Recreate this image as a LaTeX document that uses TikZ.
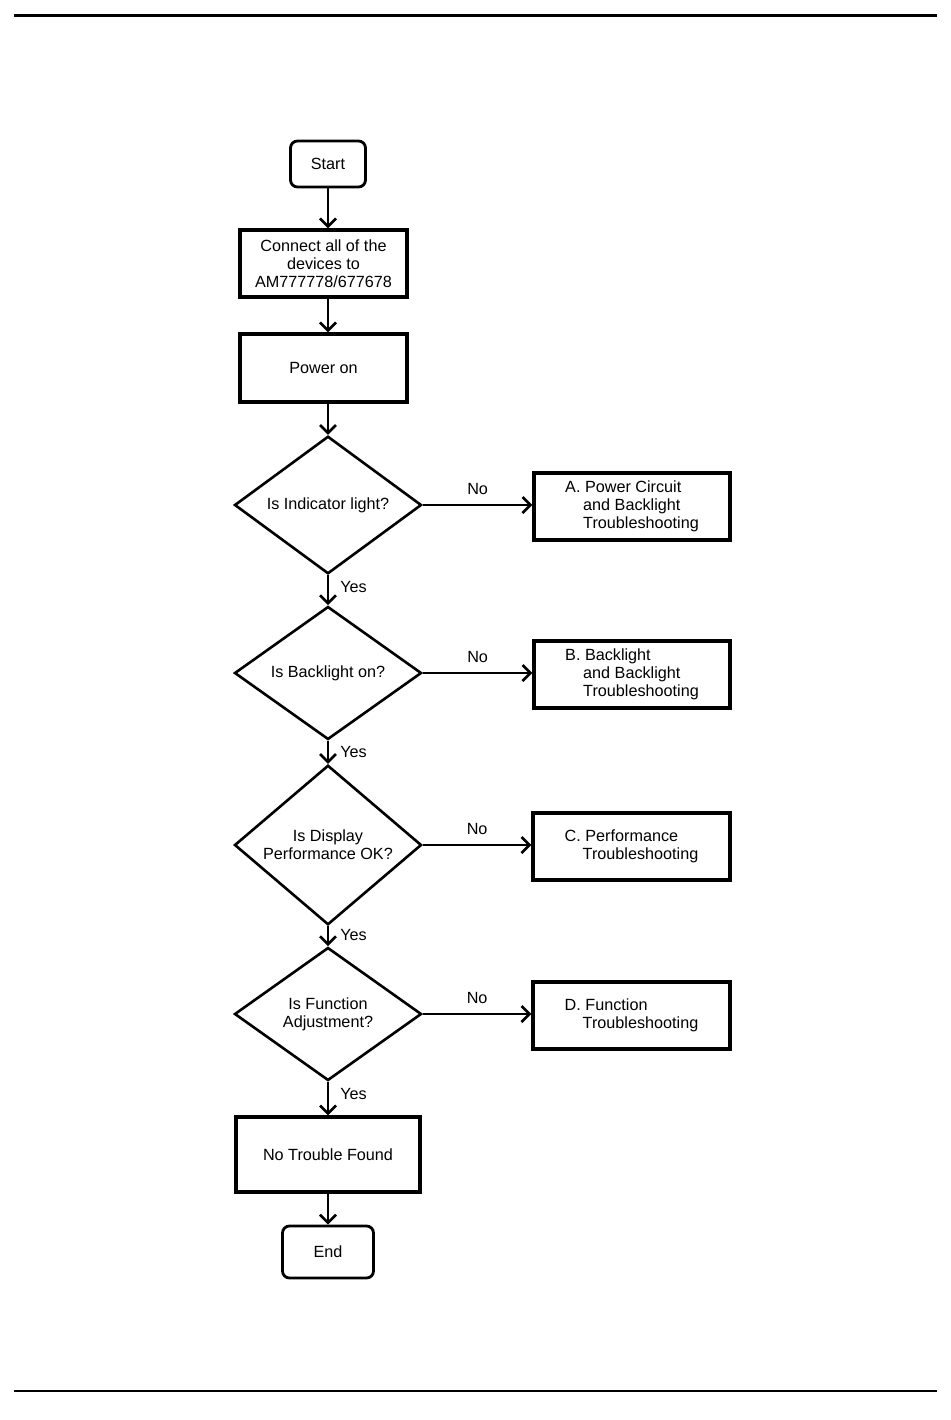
\documentclass[tikz,border=0pt]{standalone}
\usepackage{fontspec}
\setmainfont{Liberation Sans}
\usetikzlibrary{shapes.geometric,arrows.meta}
\begin{document}
\begin{tikzpicture}[x=1pt,y=-1pt,
  every node/.style={font=\fontsize{16.2}{18}\selectfont},
  box/.style={draw,line width=3.2pt,rectangle,inner sep=0pt},
  term/.style={draw,line width=2.8pt,rounded corners=7pt,inner sep=0pt},
  dec/.style={draw,line width=2.6pt,diamond,inner sep=0pt,minimum width=187pt,minimum height=133pt,align=center},
  conn/.style={line width=2.7pt,-{Straight Barb[length=8pt,width=16pt,line width=2.7pt]}},
  lab/.style={inner sep=0pt}]
\useasboundingbox (0,0) rectangle (950,1420);
\draw[line width=3pt] (14,16) -- (937,16);
\draw[line width=2pt] (14,1391) -- (937,1391);

\node[term,minimum width=75pt,minimum height=46pt] (start) at (328,164) {Start};
\node[box,minimum width=167pt,minimum height=67pt,align=center] (conn1) at (323.5,263.5) {Connect all of the\\devices to\\AM777778/677678};
\node[box,minimum width=167pt,minimum height=68pt] (pwr) at (323.5,368) {Power on};
\node[dec] (d1) at (328,505) {Is Indicator light?};
\node[dec] (d2) at (328,673) {Is Backlight on?};
\node[dec] (d3) at (328,845) {Is Display\\Performance OK?};
\node[dec] (d4) at (328,1014) {Is Function\\Adjustment?};
\node[box,minimum width=184pt,minimum height=75pt] (ntf) at (328,1154.5) {No Trouble Found};
\node[term,minimum width=91pt,minimum height=52pt] (end) at (328,1252) {End};

\node[box,minimum width=196pt,minimum height=67pt,align=left] (a) at (632,506.5) {A. Power Circuit\\\hspace*{18pt}and Backlight\\\hspace*{18pt}Troubleshooting};
\node[box,minimum width=196pt,minimum height=67pt,align=left] (b) at (632,674.5) {B. Backlight\\\hspace*{18pt}and Backlight\\\hspace*{18pt}Troubleshooting};
\node[box,minimum width=197pt,minimum height=67pt,align=left] (c) at (631.5,846.5) {C. Performance\\\hspace*{18pt}Troubleshooting};
\node[box,minimum width=197pt,minimum height=67pt,align=left] (d) at (631.5,1015.5) {D. Function\\\hspace*{18pt}Troubleshooting};

\draw[conn] (start.south) -- (start.south |- conn1.north);
\draw[conn] (start.south |- conn1.south) -- (start.south |- pwr.north);
\draw[conn] (start.south |- pwr.south) -- (d1.north);

\draw[conn] (d1.south) -- (d2.north) node[lab,pos=0.4,anchor=west,xshift=11pt] {Yes};
\draw[conn] (d2.south) -- (d3.north) node[lab,pos=0.5,anchor=west,xshift=11pt] {Yes};
\draw[conn] (d3.south) -- (d4.north) node[lab,pos=0.43,anchor=west,xshift=11pt] {Yes};
\draw[conn] (d4.south) -- (ntf.north) node[lab,pos=0.35,anchor=west,xshift=11pt] {Yes};
\draw[conn] (ntf.south -| end) -- (end.north);

\draw[conn] (d1.east) -- (d1.east -| a.west) node[lab,midway,anchor=south,yshift=9pt] {No};
\draw[conn] (d2.east) -- (d2.east -| b.west) node[lab,midway,anchor=south,yshift=9pt] {No};
\draw[conn] (d3.east) -- (d3.east -| c.west) node[lab,midway,anchor=south,yshift=9pt] {No};
\draw[conn] (d4.east) -- (d4.east -| d.west) node[lab,midway,anchor=south,yshift=9pt] {No};
\end{tikzpicture}
\end{document}
